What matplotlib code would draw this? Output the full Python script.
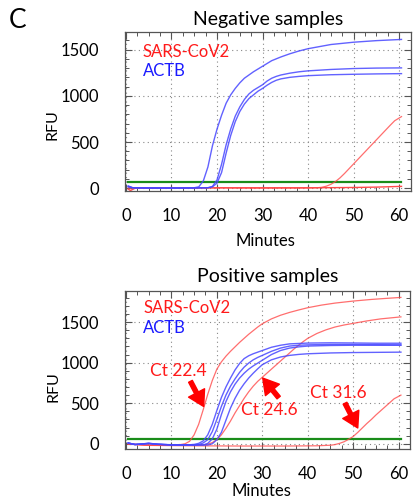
import matplotlib
matplotlib.use('Agg')
import matplotlib.pyplot as plt
from matplotlib.ticker import MultipleLocator

##### font and colours
plt.rcParams['font.family'] = ['Lato', 'DejaVu Sans']
red_line = '#ff4a4a'
blue_line = '#4646ff'
green_line = '#1a8c1a'
red_text = '#ff1a1a'
blue_text = '#1a1aff'

##### Negative samples panel - curves (minutes, RFU)
neg_actb1_min = [0.5, 1.5, 5, 10, 14, 15, 16, 17, 18, 19, 20, 21, 22, 23, 24, 25, 26, 28, 30, 32, 34, 36, 38, 40, 45, 50, 55, 60.5]
neg_actb1_rfu = [25, 5, 3, 2, 3, 5, 15, 80, 230, 460, 640, 790, 920, 1010, 1080, 1140, 1190, 1260, 1320, 1380, 1420, 1455, 1485, 1510, 1555, 1580, 1597, 1610]

neg_actb2_min = [0.5, 1.5, 5, 10, 15, 18, 19, 20, 21, 22, 23, 24, 25, 26, 27, 28, 29, 30, 31, 32, 33, 34, 36, 38, 40, 45, 50, 55, 60.5]
neg_actb2_rfu = [20, 5, 3, 2, 3, 5, 20, 90, 260, 470, 640, 780, 880, 960, 1020, 1060, 1090, 1120, 1160, 1190, 1210, 1225, 1245, 1260, 1270, 1285, 1295, 1300, 1302]

neg_actb3_min = [0.5, 1.5, 5, 10, 15, 18, 19, 20, 21, 22, 23, 24, 25, 26, 27, 28, 29, 30, 31, 32, 33, 34, 36, 38, 40, 45, 50, 55, 60.5]
neg_actb3_rfu = [15, 4, 2, 2, 3, 5, 15, 55, 170, 380, 570, 720, 830, 910, 970, 1010, 1050, 1080, 1115, 1145, 1168, 1183, 1200, 1210, 1218, 1228, 1233, 1237, 1240]

neg_cov1_min = [0.5, 1, 2, 10, 20, 30, 40, 42, 43, 44, 45, 46, 47, 48, 49, 50, 51, 52, 53, 54, 55, 56, 57, 58, 59, 60.5]
neg_cov1_rfu = [5, 0, 5, 5, 3, 0, 2, 5, 10, 22, 42, 72, 112, 160, 212, 264, 316, 368, 420, 472, 524, 576, 628, 680, 730, 775]

neg_cov2_min = [0.5, 1, 2, 10, 20, 30, 40, 45, 50, 55, 60.5]
neg_cov2_rfu = [-10, -25, 0, 3, 5, 5, 5, 6, 8, 12, 20]

neg_threshold = 70

##### Positive samples panel - curves (minutes, RFU)
pos_actb1_min = [0.5, 2, 5, 7, 10, 14, 15, 16, 17, 18, 19, 20, 21, 22, 23, 24, 25, 26, 27, 28, 29, 30, 32, 34, 36, 40, 45, 50, 55, 60.5]
pos_actb1_rfu = [10, -8, 5, -5, -12, -12, -8, 5, 35, 110, 240, 410, 570, 700, 810, 910, 990, 1050, 1085, 1110, 1130, 1150, 1190, 1215, 1232, 1242, 1245, 1243, 1240, 1240]

pos_actb2_min = [0.5, 2, 5, 7, 10, 15, 16, 17, 18, 19, 20, 21, 22, 23, 24, 25, 26, 27, 28, 29, 30, 32, 34, 36, 38, 40, 45, 50, 55, 60.5]
pos_actb2_rfu = [10, -10, 3, -8, -15, -15, -10, 10, 50, 150, 300, 460, 600, 710, 800, 880, 945, 995, 1035, 1065, 1090, 1140, 1180, 1205, 1215, 1220, 1225, 1225, 1222, 1220]

pos_actb3_min = [0.5, 2, 5, 7, 10, 15, 17, 18, 19, 20, 21, 22, 23, 24, 25, 26, 27, 28, 29, 30, 32, 34, 36, 38, 40, 45, 50, 60.5]
pos_actb3_rfu = [8, -10, 4, -6, -14, -15, -15, 5, 60, 180, 360, 520, 640, 735, 810, 870, 920, 960, 995, 1030, 1100, 1150, 1180, 1195, 1205, 1212, 1215, 1215]

pos_actb4_min = [0.5, 2, 5, 7, 10, 15, 18, 19, 20, 21, 22, 23, 24, 25, 26, 27, 28, 29, 30, 32, 34, 36, 38, 40, 45, 50, 60.5]
pos_actb4_rfu = [8, -10, 6, -5, -14, -15, -15, 0, 50, 140, 290, 440, 560, 660, 740, 810, 870, 925, 975, 1035, 1070, 1090, 1102, 1110, 1120, 1125, 1130]

pos_cov1_min = [0.5, 4, 8, 12, 13, 14, 15, 16, 17, 18, 19, 20, 21, 22, 23, 24, 25, 26, 27, 28, 29, 30, 32, 34, 36, 38, 40, 43, 46, 50, 54, 57, 60.5]
pos_cov1_rfu = [0, -15, -15, -10, 0, 30, 110, 240, 420, 610, 780, 920, 1010, 1080, 1140, 1195, 1250, 1300, 1350, 1395, 1440, 1480, 1540, 1585, 1620, 1650, 1678, 1710, 1735, 1760, 1780, 1792, 1805]

pos_cov2_min = [0.5, 5, 10, 17, 18, 19, 20, 21, 22, 23, 24, 25, 26, 27, 28, 29, 30, 31, 32, 33, 34, 35, 36, 37, 38, 39, 40, 42, 44, 46, 48, 50, 53, 56, 60.5]
pos_cov2_rfu = [0, -20, -20, -15, -5, 15, 50, 110, 190, 280, 380, 470, 560, 640, 710, 770, 820, 870, 920, 970, 1020, 1070, 1120, 1170, 1215, 1260, 1300, 1360, 1405, 1440, 1465, 1485, 1515, 1540, 1565]

pos_cov3_min = [0.5, 5, 15, 25, 35, 42, 45, 46, 47, 48, 49, 50, 51, 52, 53, 54, 55, 56, 57, 58, 59, 60.5]
pos_cov3_rfu = [-5, -20, -25, -28, -28, -25, -18, -10, 5, 25, 55, 90, 140, 195, 250, 300, 355, 405, 455, 505, 555, 600]

pos_threshold = 60

##### Ct annotations on positive panel: label, text position, arrow tail, arrow head
ct_labels = ['Ct 22.4', 'Ct 24.6', 'Ct 31.6']
ct_text_xy = [(11.6, 900), (31.6, 420), (46.7, 625)]
ct_tail_xy = [(14.2, 770), (33.6, 570), (48.2, 500)]
ct_head_xy = [(17.1, 460), (30.1, 810), (51.0, 195)]

minute_ticks = [0, 10, 20, 30, 40, 50, 60]
rfu_ticks = [0, 500, 1000, 1500]


def style_axes(ax, ymin, ymax):
    ax.set_xlim(-0.2, 62.5)
    ax.set_ylim(ymin, ymax)
    ax.set_xticks(minute_ticks)
    ax.set_yticks(rfu_ticks)
    ax.xaxis.set_minor_locator(MultipleLocator(2.5))
    ax.yaxis.set_minor_locator(MultipleLocator(100))
    ax.tick_params(which='both', direction='in', top=True, right=True, color='#555555')
    ax.tick_params(which='major', length=5, width=0.8)
    ax.tick_params(which='minor', length=3, width=0.7)
    ax.tick_params(axis='x', labelsize=12, pad=12)
    ax.tick_params(axis='y', labelsize=12, pad=19)
    ax.grid(True, which='major', color='#888888', linestyle=(0, (1, 3)), linewidth=0.8)
    for s in ax.spines.values():
        s.set_color('#555555')
        s.set_linewidth(0.9)
    ax.set_axisbelow(True)


fig = plt.figure(figsize=(4.13, 5.03), dpi=100)

##### top panel - negative samples
ax1 = fig.add_axes([0.3027, 0.6203, 0.6915, 0.316])
style_axes(ax1, -30, 1690)
ax1.plot([0.5, 60.5], [neg_threshold, neg_threshold], color=green_line, lw=1.6)
ax1.plot(neg_cov2_min, neg_cov2_rfu, color=red_line, lw=1.0)
ax1.plot(neg_cov1_min, neg_cov1_rfu, color=red_line, lw=0.9, alpha=0.8)
for m, r in [(neg_actb1_min, neg_actb1_rfu), (neg_actb2_min, neg_actb2_rfu), (neg_actb3_min, neg_actb3_rfu)]:
    ax1.plot(m, r, color=blue_line, lw=1.0, alpha=0.85)
ax1.text(0.062, 0.846, 'SARS-CoV2', color=red_text, fontsize=12, transform=ax1.transAxes, va='baseline')
ax1.text(0.062, 0.725, 'ACTB', color=blue_text, fontsize=12, transform=ax1.transAxes, va='baseline')
ax1.set_title('Negative samples', fontsize=14, pad=5)
ax1.set_xlabel('Minutes', fontsize=12)
ax1.set_ylabel('RFU', fontsize=11.5)
ax1.xaxis.set_label_coords(0.49, -0.265)
ax1.yaxis.set_label_coords(-0.228, 0.42)

##### bottom panel - positive samples
ax2 = fig.add_axes([0.3027, 0.1068, 0.6901, 0.3153])
style_axes(ax2, -68, 1888)
ax2.plot([0.5, 60.5], [pos_threshold, pos_threshold], color=green_line, lw=1.6)
for m, r in [(pos_cov3_min, pos_cov3_rfu), (pos_cov2_min, pos_cov2_rfu), (pos_cov1_min, pos_cov1_rfu)]:
    ax2.plot(m, r, color=red_line, lw=0.9, alpha=0.8)
for m, r in [(pos_actb1_min, pos_actb1_rfu), (pos_actb2_min, pos_actb2_rfu),
             (pos_actb3_min, pos_actb3_rfu), (pos_actb4_min, pos_actb4_rfu)]:
    ax2.plot(m, r, color=blue_line, lw=1.0, alpha=0.85)
ax2.text(0.064, 0.858, 'SARS-CoV2', color=red_text, fontsize=12, transform=ax2.transAxes, va='baseline')
ax2.text(0.064, 0.731, 'ACTB', color=blue_text, fontsize=12, transform=ax2.transAxes, va='baseline')
for lab, txy, tail, head in zip(ct_labels, ct_text_xy, ct_tail_xy, ct_head_xy):
    ax2.text(txy[0], txy[1], lab, color=red_text, fontsize=12.5, ha='center', va='center')
    ax2.annotate('', xy=head, xytext=tail,
                 arrowprops=dict(facecolor='#ff0000', edgecolor='#ff0000', width=3,
                                 headwidth=13, headlength=11, shrink=0))
ax2.set_title('Positive samples', fontsize=14, pad=6)
ax2.set_xlabel('Minutes', fontsize=12)
ax2.set_ylabel('RFU', fontsize=11.5)
ax2.xaxis.set_label_coords(0.48, -0.212)
ax2.yaxis.set_label_coords(-0.228, 0.395)

##### panel letter
fig.text(0.02, 0.959, 'C', fontsize=19, va='center', ha='left')

plt.savefig('out.png', dpi=100)
